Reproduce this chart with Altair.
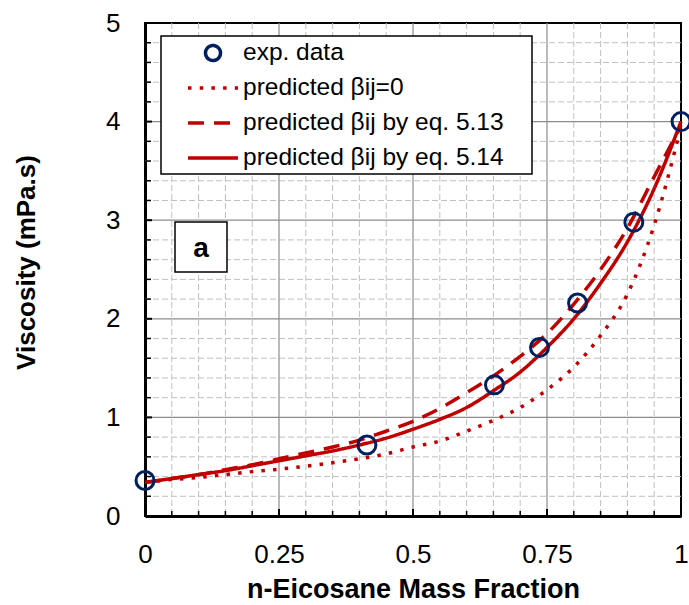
import altair as alt
import pandas as pd

# ---- data ----
x_curve = [0.0, 0.05, 0.10, 0.15, 0.20, 0.25, 0.30, 0.35, 0.40, 0.45, 0.50,
           0.55, 0.60, 0.65, 0.70, 0.75, 0.80, 0.85, 0.90, 0.95, 1.0]
y_beta0 = [0.34, 0.37, 0.39, 0.42, 0.45, 0.475, 0.505, 0.54, 0.58, 0.63, 0.70,
           0.76, 0.86, 0.97, 1.10, 1.28, 1.51, 1.83, 2.25, 2.95, 3.95]
y_eq513 = [0.34, 0.38, 0.42, 0.47, 0.52, 0.58, 0.64, 0.70, 0.77, 0.86, 0.96,
           1.09, 1.25, 1.42, 1.62, 1.85, 2.15, 2.50, 2.92, 3.44, 3.96]
y_eq514 = [0.34, 0.38, 0.42, 0.46, 0.51, 0.56, 0.61, 0.66, 0.72, 0.79, 0.88,
           0.98, 1.10, 1.27, 1.46, 1.71, 2.00, 2.36, 2.78, 3.32, 4.00]
exp_x = [0.0, 0.414, 0.652, 0.736, 0.807, 0.912, 1.0]
exp_y = [0.36, 0.72, 1.33, 1.71, 2.16, 2.98, 4.0]

series_names = ["exp. data", "predicted βij=0",
                "predicted βij by eq. 5.13", "predicted βij by eq. 5.14"]
x_tick_values = [0, 0.25, 0.5, 0.75, 1]
y_tick_values = [0, 1, 2, 3, 4, 5]
x_major = [0.25, 0.5, 0.75]
x_minor = [0.05, 0.1, 0.15, 0.2, 0.3, 0.35, 0.4, 0.45, 0.55, 0.6, 0.65, 0.7,
           0.8, 0.85, 0.9, 0.95]
y_major = [1, 2, 3, 4]
y_minor = [0.2, 0.4, 0.6, 0.8, 1.2, 1.4, 1.6, 1.8, 2.2, 2.4, 2.6, 2.8,
           3.2, 3.4, 3.6, 3.8, 4.2, 4.4, 4.6, 4.8]

# ---- tables ----
lines_df = pd.concat([
    pd.DataFrame({"x": x_curve, "y": y_beta0, "series": series_names[1]}),
    pd.DataFrame({"x": x_curve, "y": y_eq513, "series": series_names[2]}),
    pd.DataFrame({"x": x_curve, "y": y_eq514, "series": series_names[3]}),
], ignore_index=True)
exp_df = pd.DataFrame({"x": exp_x, "y": exp_y, "series": series_names[0]})

W, H = 536, 493
FONT = "Liberation Sans"
RED = "#C00000"
NAVY = "#002060"
circle_path = "M0.3,0A0.3,0.3 0 1,1 -0.3,0A0.3,0.3 0 1,1 0.3,0Z"

xs = alt.Scale(domain=[0, 1], nice=False, zero=False)
ys = alt.Scale(domain=[0, 5], nice=False, zero=False)
leg = alt.Legend(title=None)
color_enc = alt.Color("series:N", legend=leg,
                      scale=alt.Scale(domain=series_names, range=[NAVY, RED, RED, RED]))

x_axis = alt.Axis(title="n-Eicosane Mass Fraction", values=x_tick_values,
                  labelExpr="'' + datum.value",
                  labelFlush=False, labelOverlap=False, labelBaseline="alphabetic",
                  labelPadding=46, titleY=81, titleBaseline="alphabetic",
                  titleFontSize=27)
y_axis = alt.Axis(title="Viscosity (mPa.s)", values=y_tick_values,
                  labelExpr="'' + datum.value",
                  labelFlush=False, labelOverlap=False, labelPadding=25,
                  titleX=-119, titleY=239, titleBaseline="middle", titleAngle=270,
                  titleFontSize=26)


def X(field):
    return alt.X(field, scale=xs, axis=x_axis)


def Y(field):
    return alt.Y(field, scale=ys, axis=y_axis)


grid_minor_x = alt.Chart(pd.DataFrame({"v": x_minor})).mark_rule(
    color="#BFBFBF", strokeWidth=1, strokeDash=[6, 3]).encode(x=X("v:Q"))
grid_minor_y = alt.Chart(pd.DataFrame({"v": y_minor})).mark_rule(
    color="#BFBFBF", strokeWidth=1, strokeDash=[6, 3]).encode(y=Y("v:Q"))
grid_major_x = alt.Chart(pd.DataFrame({"v": x_major})).mark_rule(
    color="#8C8C8C", strokeWidth=1.2).encode(x=X("v:Q"))
grid_major_y = alt.Chart(pd.DataFrame({"v": y_major})).mark_rule(
    color="#8C8C8C", strokeWidth=1.2).encode(y=Y("v:Q"))

ticks_x_minor = alt.Chart(pd.DataFrame({"v": x_minor})).mark_rule(
    color="black", strokeWidth=1.5).encode(
    x=X("v:Q"), y=alt.value(H), y2=alt.value(H - 5))
ticks_x_major = alt.Chart(pd.DataFrame({"v": x_major})).mark_rule(
    color="black", strokeWidth=2).encode(
    x=X("v:Q"), y=alt.value(H), y2=alt.value(H - 7))
ticks_y_minor = alt.Chart(pd.DataFrame({"v": y_minor})).mark_rule(
    color="black", strokeWidth=1.5).encode(
    y=Y("v:Q"), x=alt.value(0), x2=alt.value(6))
ticks_y_major = alt.Chart(pd.DataFrame({"v": y_major})).mark_rule(
    color="black", strokeWidth=2).encode(
    y=Y("v:Q"), x=alt.value(0), x2=alt.value(7))

legend_frame = alt.Chart(pd.DataFrame({"k": [0]})).mark_rect(
    fill="white", stroke="black", strokeWidth=1.5).encode(
    x=alt.value(16), x2=alt.value(387), y=alt.value(13), y2=alt.value(151))

a_box = alt.Chart(pd.DataFrame({"k": [0]})).mark_rect(
    fill="white", stroke="black", strokeWidth=1.5).encode(
    x=alt.value(30), x2=alt.value(82), y=alt.value(199), y2=alt.value(249))
a_text = alt.Chart(pd.DataFrame({"t": ["a"]})).mark_text(
    font=FONT, fontSize=28, fontWeight="bold", color="black",
    align="center", baseline="middle").encode(
    text="t:N", x=alt.value(56), y=alt.value(226))

lines = alt.Chart(lines_df).mark_line(strokeWidth=3.5, interpolate="monotone").encode(
    x=X("x:Q"),
    y=Y("y:Q"),
    color=color_enc,
    strokeDash=alt.StrokeDash("series:N", legend=leg, scale=alt.Scale(
        domain=series_names, range=[[1, 0], [3.5, 8.2], [16, 10], [1, 0]])),
)

points = alt.Chart(exp_df).mark_point(
    filled=False, strokeWidth=3, size=3600, opacity=1).encode(
    x=X("x:Q"),
    y=Y("y:Q"),
    color=color_enc,
    shape=alt.Shape("series:N", legend=leg, scale=alt.Scale(
        domain=series_names, range=[circle_path, "stroke", "stroke", "stroke"])),
)

chart = alt.layer(
    grid_minor_x, grid_minor_y, grid_major_x, grid_major_y,
    legend_frame, a_box, a_text,
    lines, points,
    ticks_x_minor, ticks_x_major, ticks_y_minor, ticks_y_major,
).properties(
    width=W, height=H,
    autosize=alt.AutoSizeParams(type="none"),
    padding={"left": 145, "top": 23, "right": 8, "bottom": 89},
    background="white",
).configure_view(
    stroke="black", strokeWidth=2
).configure_axis(
    grid=False, ticks=False, tickSize=0, domainColor="black", domainWidth=3,
    labelFont=FONT, labelFontSize=26, labelColor="black",
    titleFont=FONT, titleFontWeight="bold", titleColor="black",
).configure_legend(
    orient="none", legendX=41, legendY=18, padding=0, clipHeight=24,
    rowPadding=10, symbolSize=2500, symbolOffset=0, labelOffset=3,
    labelFont=FONT, labelFontSize=24.5, labelColor="black", labelLimit=0,
    symbolStrokeWidth=3.5,
)

chart.save("out.html", embed_options={"renderer": "svg", "actions": False})
